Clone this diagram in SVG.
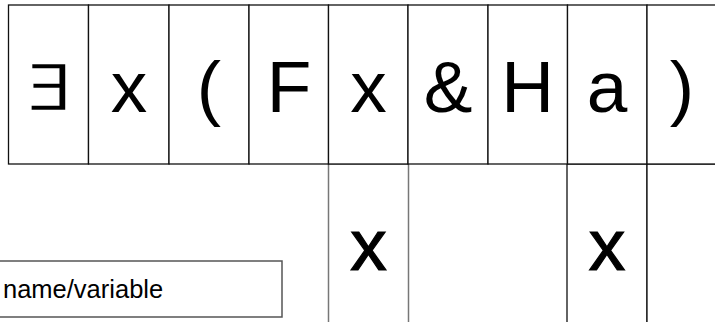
<svg xmlns="http://www.w3.org/2000/svg" width="715" height="322" viewBox="0 0 715 322">
<style>
.c{fill:#fff;stroke:#111;stroke-width:1.3}
.g{fill:#fff;stroke:#777;stroke-width:1.5}
.t{font-family:"Liberation Sans",Arial,sans-serif;font-size:73px;fill:#000;text-anchor:middle}
.b{stroke:#000;stroke-width:1.2}
.l{font-family:"Liberation Sans",Arial,sans-serif;font-size:25.5px;fill:#000}
</style>
<rect width="715" height="322" fill="#fff"/>
<g id="bottom-cells">
<g id="b1"><rect class="g" x="328.5" y="164" width="80" height="170"/><text class="t b" x="368.5" y="270">x</text></g>
<g id="b2"><rect class="c" x="567" y="164" width="80" height="170"/><text class="t b" x="607" y="270">x</text></g>
<g id="b3"><rect class="c" x="647" y="164" width="80" height="170"/></g>
</g>
<g id="top-cells">
<g id="t1"><rect class="c" x="8.5" y="5" width="80" height="159"/><text class="t" x="47" y="109" style="font-family:'DejaVu Sans',sans-serif;font-size:60px;font-weight:200;stroke:#000;stroke-width:1.6" transform="translate(47 0) scale(1.25 1) translate(-47 0)">∃</text></g>
<g id="t2"><rect class="c" x="88.5" y="5" width="80.5" height="159"/><text class="t" x="129" y="112">x</text></g>
<g id="t3"><rect class="c" x="169" y="5" width="80" height="159"/><text class="t" x="209" y="112">(</text></g>
<g id="t4"><rect class="c" x="249" y="5" width="79.5" height="159"/><text class="t" x="289" y="112">F</text></g>
<g id="t5"><rect class="c" x="328.5" y="5" width="79.5" height="159"/><text class="t" x="368.5" y="112">x</text></g>
<g id="t6"><rect class="c" x="408" y="5" width="80" height="159"/><text class="t" x="448" y="112">&amp;</text></g>
<g id="t7"><rect class="c" x="488" y="5" width="79.5" height="159"/><text class="t" x="527.5" y="112">H</text></g>
<g id="t8"><rect class="c" x="567.5" y="5" width="79.5" height="159"/><text class="t" x="607" y="112">a</text></g>
<g id="t9"><rect class="c" x="647" y="5" width="80" height="159"/><text class="t" x="682" y="112">)</text></g>
</g>
<g id="label"><rect class="g" x="-2" y="261" width="284" height="56" style="stroke:#555"/><text class="l" x="3" y="298">name/variable</text></g>
<g id="connectors"/>
</svg>
